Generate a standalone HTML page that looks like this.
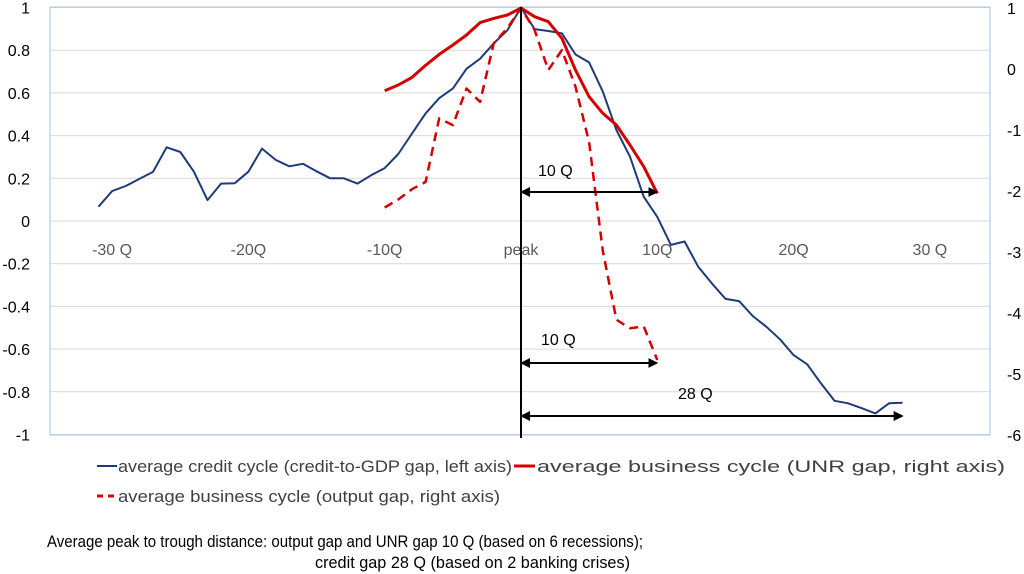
<!DOCTYPE html>
<html><head><meta charset="utf-8"><style>
body{margin:0;background:#fff;}
svg{display:block;font-family:"Liberation Sans Narrow","Liberation Sans",sans-serif;}
</style></head><body>
<svg id="chart" width="1024" height="574" viewBox="0 0 1024 574" xmlns="http://www.w3.org/2000/svg">
<g id="grid"></g>
<rect x="50" y="7" width="940" height="428" fill="none" stroke="#a6c4e6" stroke-width="1"/>
<g id="yl"></g>
<g id="yr"></g>
<g id="xl"></g>
<g id="series"></g>
<line x1="521" y1="7" x2="521" y2="438" stroke="#000" stroke-width="2"/>
<g id="ann"></g>
<g font-size="17" fill="#404040">
 <g><line x1="97" y1="466" x2="117" y2="466" stroke="#1f3a7a" stroke-width="2"/><text x="118" y="472" textLength="394" lengthAdjust="spacingAndGlyphs">average credit cycle (credit-to-GDP gap, left axis)</text></g>
 <g><line x1="514" y1="466" x2="535" y2="466" stroke="#d40000" stroke-width="3"/><text x="537" y="472" textLength="468" lengthAdjust="spacingAndGlyphs">average business cycle (UNR gap, right axis)</text></g>
 <g><line x1="97" y1="496" x2="117" y2="496" stroke="#d40000" stroke-width="3" stroke-dasharray="6,5"/><text x="118" y="502" textLength="382" lengthAdjust="spacingAndGlyphs">average business cycle (output gap, right axis)</text></g>
</g>
<text x="47" y="547" font-size="17" fill="#000" textLength="596" lengthAdjust="spacingAndGlyphs">Average peak to trough distance: output gap and UNR gap 10 Q  (based on 6 recessions);</text>
<text x="315" y="568" font-size="17" fill="#000" textLength="315" lengthAdjust="spacingAndGlyphs">credit gap 28 Q (based on 2 banking crises)</text>
</svg>
<script>
const creditQuarters=[-31,-30,-29,-28,-27,-26,-25,-24,-23,-22,-21,-20,-19,-18,-17,-16,-15,-14,-13,-12,-11,-10,-9,-8,-7,-6,-5,-4,-3,-2,-1,0,1,2,3,4,5,6,7,8,9,10,11,12,13,14,15,16,17,18,19,20,21,22,23,24,25,26,27,28];
const creditValues=[0.067,0.14,0.164,0.197,0.23,0.345,0.323,0.231,0.098,0.175,0.177,0.231,0.339,0.286,0.256,0.268,0.233,0.2,0.2,0.175,0.214,0.248,0.314,0.41,0.504,0.575,0.621,0.713,0.76,0.832,0.893,1,0.899,0.89,0.879,0.78,0.743,0.606,0.426,0.301,0.114,0.019,-0.112,-0.096,-0.214,-0.292,-0.365,-0.375,-0.445,-0.495,-0.554,-0.628,-0.671,-0.76,-0.842,-0.854,-0.877,-0.901,-0.854,-0.851];
const cycleQuarters=[-10,-9,-8,-7,-6,-5,-4,-3,-2,-1,0,1,2,3,4,5,6,7,8,9,10];
const unrValues=[-0.355,-0.262,-0.137,0.06,0.24,0.393,0.557,0.76,0.83,0.885,1,0.857,0.776,0.503,-0.016,-0.454,-0.727,-0.918,-1.246,-1.6,-2.04];
const outputValues=[-2.27,-2.14,-1.97,-1.85,-0.81,-0.92,-0.32,-0.54,0.42,0.67,1,0.64,-0.016,0.31,-0.29,-1.2,-2.98,-4.11,-4.25,-4.22,-4.77];
const leftTicks=[1,0.8,0.6,0.4,0.2,0,-0.2,-0.4,-0.6,-0.8,-1];
const leftTickLabels=["1","0.8","0.6","0.4","0.2","0","-0.2","-0.4","-0.6","-0.8","-1"];
const rightTicks=[1,0,-1,-2,-3,-4,-5,-6];
const xTicks=[-30,-20,-10,0,10,20,30];
const xTickLabels=["-30 Q","-20Q","-10Q","peak","10Q","20Q","30 Q"];
const arrowSpans=[10,10,28];
const arrowLabels=["10 Q","10 Q","28 Q"];

const NS="http://www.w3.org/2000/svg";
const xS=q=>521+q*13.63;
const yL=v=>221-v*213.5;
const yR=v=>69-v*61;
function mk(tag,attrs,parent){const e=document.createElementNS(NS,tag);for(const k in attrs)e.setAttribute(k,attrs[k]);parent.appendChild(e);return e;}
const grid=document.getElementById('grid'),yl=document.getElementById('yl'),yr=document.getElementById('yr'),xl=document.getElementById('xl'),ser=document.getElementById('series'),ann=document.getElementById('ann');
leftTicks.forEach((v,i)=>{
 const g=mk('line',{x1:50,x2:990,y1:yL(v),y2:yL(v),stroke:'#d9d9d9','stroke-width':1},grid);
 
 
 const t=mk('text',{x:30,y:yL(v)+6,'text-anchor':'end','font-size':16,fill:'#000'},yl);
 t.textContent=leftTickLabels[i];
 
 
});
rightTicks.forEach(v=>{
 const t=mk('text',{x:1007,y:yR(v)+6,'font-size':16,fill:'#000'},yr);
 t.textContent=String(v);
 
 
});
xTicks.forEach((q,i)=>{
 const t=mk('text',{x:xS(q),y:255,'text-anchor':'middle','font-size':16,fill:'#595959'},xl);
 t.textContent=xTickLabels[i];
 
 
});
function line(qs,vs,ys,attrs,name){
 const d=qs.map((q,i)=>(i?'L':'M')+xS(q).toFixed(1)+','+ys(vs[i]).toFixed(1)).join(' ');
 const p=mk('path',Object.assign({d:d,fill:'none','stroke-linejoin':'round'},attrs),ser);
 
 
}
line(creditQuarters,creditValues,yL,{stroke:'#1f3a7a','stroke-width':2},'credit-cycle-line');
line(cycleQuarters,outputValues,yR,{stroke:'#d40000','stroke-width':2.5,'stroke-dasharray':'9,6'},'output-gap-line');
line(cycleQuarters,unrValues,yR,{stroke:'#d40000','stroke-width':3},'unr-gap-line');
const arrowY=[192,363,416],labelPos=[[538,176],[541,345],[678,399]];
mk('defs',{},ann).innerHTML='<marker id="ah" markerWidth="5" markerHeight="5" refX="4" refY="2.5" orient="auto-start-reverse"><path d="M0,0 L5,2.5 L0,5 z" fill="#000"/></marker>';
arrowSpans.forEach((s,i)=>{
 const a=mk('line',{x1:xS(0)+1,x2:xS(s)-1,y1:arrowY[i],y2:arrowY[i],stroke:'#000','stroke-width':2,'marker-start':'url(#ah)','marker-end':'url(#ah)'},ann);
 
 
 const t=mk('text',{x:labelPos[i][0],y:labelPos[i][1],'font-size':16,fill:'#000'},ann);
 t.textContent=arrowLabels[i];
 
 
});
</script>
</body></html>
